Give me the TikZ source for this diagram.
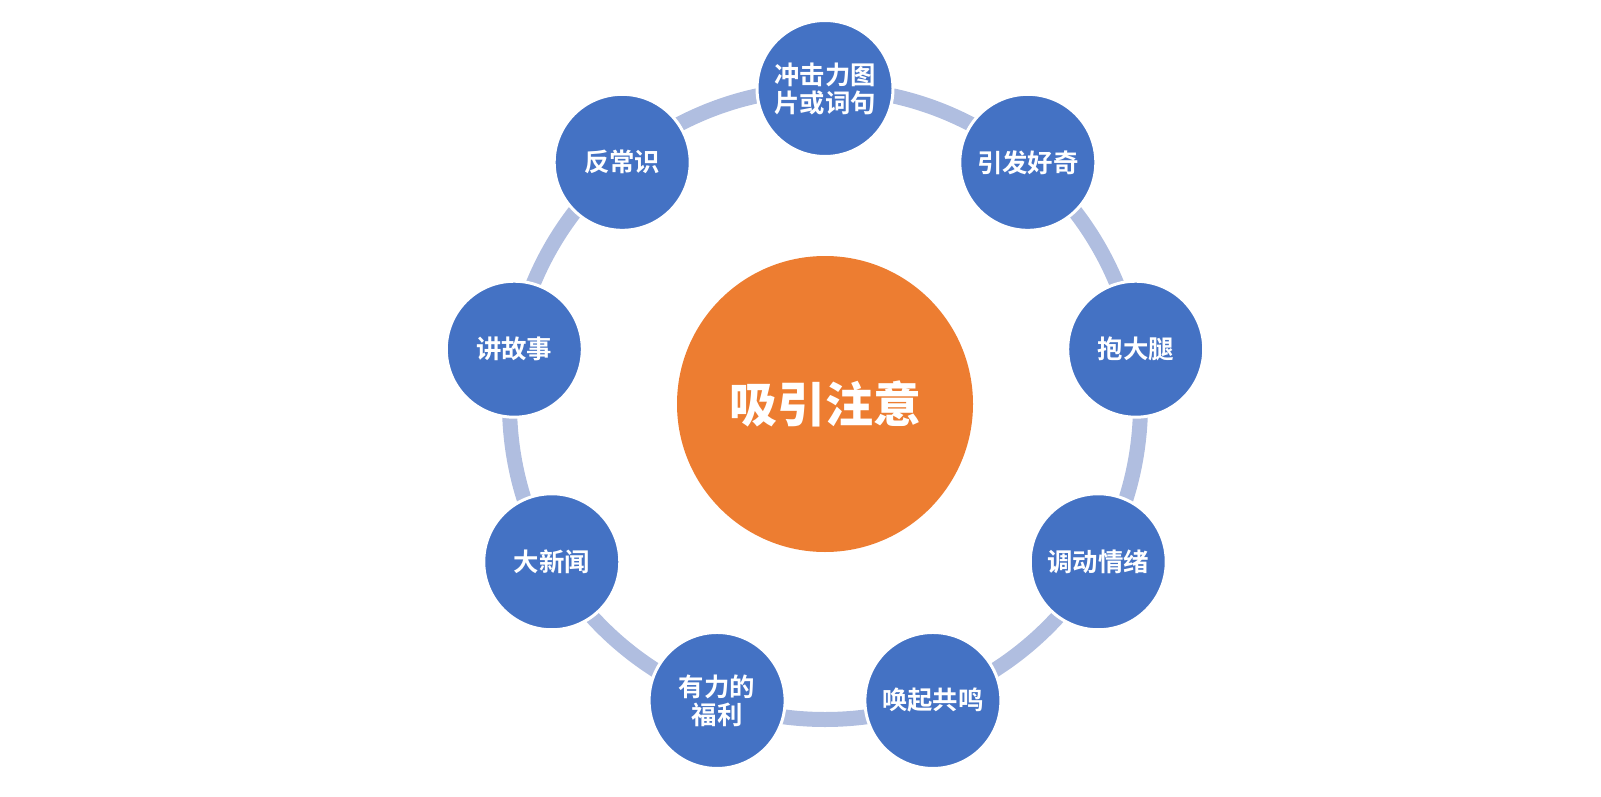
\documentclass[tikz,border=0pt]{standalone}
\usepackage{fontspec}
\usetikzlibrary{calc}
\newfontfamily\cjk{Noto Sans CJK SC}[UprightFont=* Bold]
\newfontfamily\cjkblack{Noto Sans CJK SC}[UprightFont=* Black]
\definecolor{nodeblue}{HTML}{4472C4}
\definecolor{centerorange}{HTML}{ED7D31}
\definecolor{ringblue}{HTML}{B0BEE0}
\tikzset{
  item/.style={circle, fill=nodeblue, draw=white, line width=1.5pt, minimum size=68pt, inner sep=0pt,
    text=white, font=\cjk\fontsize{12.7}{14}\selectfont, align=center},
  hub/.style={circle, fill=centerorange, minimum size=148pt, inner sep=0pt,
    text=white, font=\cjkblack\fontsize{24}{28}\selectfont},
  ring/.style={draw=ringblue, line width=7.5pt}
}
\begin{document}
\begin{tikzpicture}[x=0.5pt,y=-0.5pt]
\useasboundingbox (0,0) rectangle (1601,797);
\coordinate (c) at (825,404);
\draw[ring] (c) circle [radius=315.5];
\node[hub] (hub) at (c) {吸引注意};
\foreach \a/\t/\n in {90/{冲击力图\\片或词句}/n1, 50/引发好奇/n2, 10/抱大腿/n3, -30/调动情绪/n4,
  -70/唤起共鸣/n5, -110/{有力的\\福利}/n6, -150/大新闻/n7, 170/讲故事/n8, 130/反常识/n9}{
  \node[item] (\n) at ($(c)+({315.5*cos(\a)},{-315.5*sin(\a)})$) {\t};
}
\end{tikzpicture}
\end{document}
